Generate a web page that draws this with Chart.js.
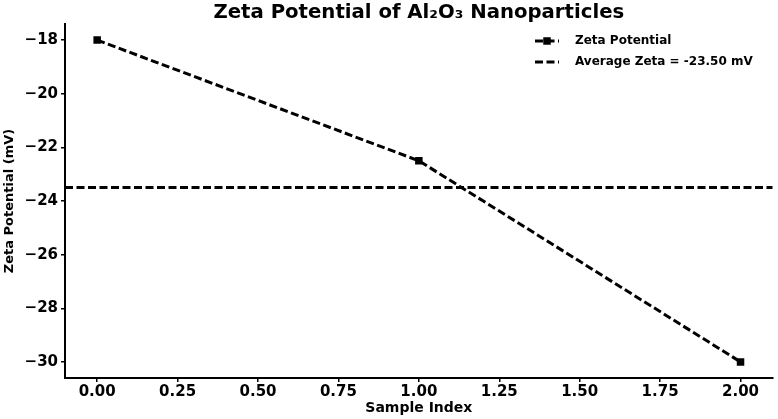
<!DOCTYPE html>
<html>
<head>
<meta charset="utf-8">
<script src="https://cdn.jsdelivr.net/npm/chart.js@4.4.0/dist/chart.umd.min.js"></script>
<style>
  html, body { margin: 0; padding: 0; background: #fff; }
  #wrap { width: 778px; height: 419px; }
</style>
</head>
<body>
<div id="wrap"><canvas id="c" width="778" height="419"></canvas></div>
<script>
// ---- data ----
const sampleIndex = [0, 1, 2];
const zetaValues = [-18.0, -22.5, -30.0];
const averageZeta = -23.5;
const xTickValues = [0, 0.25, 0.5, 0.75, 1.0, 1.25, 1.5, 1.75, 2.0];
const yTickValues = [-30, -28, -26, -24, -22, -20, -18];
const xLimits = [-0.1, 2.1];
const yLimits = [-30.6, -17.4];
const chartTitle = 'Zeta Potential of Al\u2082O\u2083 Nanoparticles';
const xTitle = 'Sample Index';
const yTitle = 'Zeta Potential (mV)';
const seriesLabel = 'Zeta Potential';
const avgLabel = 'Average Zeta = ' + averageZeta.toFixed(2) + ' mV';

const FONT = "'DejaVu Sans', sans-serif";
const DASH = [8, 3.5];

const titlePlugin = {
  id: 'mplTitle',
  afterDraw(chart) {
    const ctx = chart.ctx;
    const a = chart.chartArea;
    ctx.save();
    ctx.fillStyle = '#000';
    ctx.font = 'bold 19.7px ' + FONT;
    ctx.textAlign = 'center';
    ctx.textBaseline = 'middle';
    ctx.fillText(chartTitle, (a.left + a.right) / 2, 12.5);
    ctx.restore();
  }
};

const legendPlugin = {
  id: 'mplLegend',
  afterDraw(chart) {
    const ctx = chart.ctx;
    const items = chart.data.datasets;
    const x0 = 535, x1 = 559, tx = 575;
    const ys = [41, 62];
    ctx.save();
    items.forEach((ds, i) => {
      const y = ys[i];
      ctx.strokeStyle = ds.borderColor;
      ctx.lineWidth = ds.borderWidth;
      ctx.setLineDash(ds.borderDash || []);
      ctx.beginPath();
      ctx.moveTo(x0, y);
      ctx.lineTo(x1, y);
      ctx.stroke();
      ctx.setLineDash([]);
      if (ds.pointRadius > 0) {
        const s = ds.pointRadius * Math.SQRT1_2;
        ctx.fillStyle = ds.pointBackgroundColor;
        ctx.fillRect((x0 + x1) / 2 - s, y - s, 2 * s, 2 * s);
      }
      ctx.fillStyle = '#000';
      ctx.font = 'bold 12px ' + FONT;
      ctx.textBaseline = 'middle';
      ctx.textAlign = 'left';
      ctx.fillText(ds.label, tx, y);
    });
    ctx.restore();
  }
};

const fmtMinus = v => (v < 0 ? '\u2212' + Math.abs(v) : String(v));

new Chart(document.getElementById('c'), {
  type: 'scatter',
  data: {
    datasets: [
      {
        label: seriesLabel,
        data: sampleIndex.map((x, i) => ({ x: x, y: zetaValues[i] })),
        showLine: true,
        borderColor: '#000',
        borderWidth: 3,
        borderDash: DASH,
        pointStyle: 'rect',
        pointRadius: 5.3,
        pointBackgroundColor: '#000',
        pointBorderWidth: 0,
        pointBorderColor: '#000'
      },
      {
        label: avgLabel,
        data: xLimits.map(x => ({ x: x, y: averageZeta })),
        showLine: true,
        borderColor: '#000',
        borderWidth: 3,
        borderDash: DASH,
        pointRadius: 0,
        pointHoverRadius: 0
      }
    ]
  },
  options: {
    responsive: false,
    animation: false,
    layout: { padding: { left: 0, right: -4, top: 24, bottom: 0 } },
    plugins: {
      legend: { display: false },
      tooltip: { enabled: false },
      title: { display: false }
    },
    scales: {
      x: {
        type: 'linear',
        min: xLimits[0],
        max: xLimits[1],
        afterBuildTicks: s => { s.ticks = xTickValues.map(v => ({ value: v })); },
        afterFit: s => { s.height = 41; s.paddingLeft = 0; s.paddingRight = 0; },
        ticks: {
          color: '#000',
          font: { family: FONT, size: 15, weight: 'bold' },
          padding: 1,
          maxRotation: 0,
          autoSkip: false,
          callback: v => Number(v).toFixed(2)
        },
        grid: { drawOnChartArea: false, drawTicks: true, tickLength: 4, color: '#000', lineWidth: 1.5 },
        border: { display: true, color: '#000', width: 2 },
        title: {
          display: true,
          text: xTitle,
          color: '#000',
          font: { family: FONT, size: 14, weight: 'bold', lineHeight: 1.2 },
          padding: { top: 0, bottom: 2 }
        }
      },
      y: {
        type: 'linear',
        min: yLimits[0],
        max: yLimits[1],
        afterBuildTicks: s => { s.ticks = yTickValues.map(v => ({ value: v })); },
        afterFit: s => { s.width = 65; s.paddingTop = 0; s.paddingBottom = 0; },
        ticks: {
          color: '#000',
          font: { family: FONT, size: 15, weight: 'bold' },
          padding: 3,
          autoSkip: false,
          callback: v => fmtMinus(v)
        },
        grid: { drawOnChartArea: false, drawTicks: true, tickLength: 4, color: '#000', lineWidth: 1.5 },
        border: { display: true, color: '#000', width: 2 },
        title: {
          display: true,
          text: yTitle,
          color: '#000',
          font: { family: FONT, size: 13, weight: 'bold', lineHeight: 1.2 },
          padding: { top: 2, bottom: 0 }
        }
      }
    }
  },
  plugins: [titlePlugin, legendPlugin]
});
</script>
</body>
</html>
